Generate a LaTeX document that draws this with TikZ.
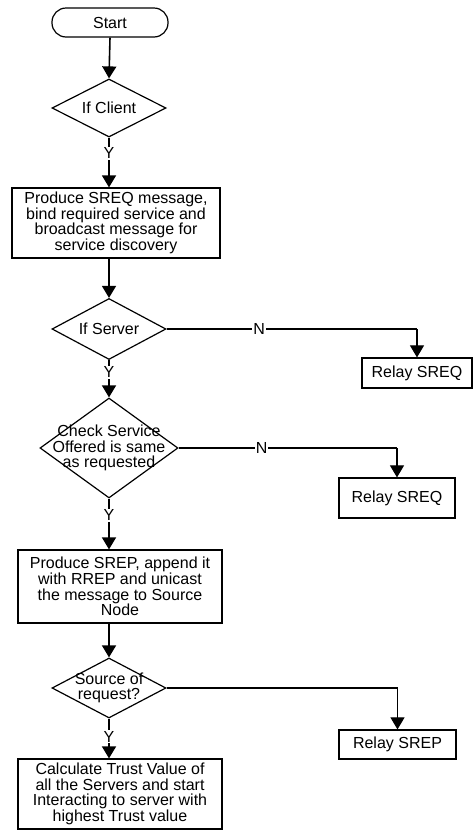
\documentclass[tikz,border=0pt]{standalone}
\usepackage{fontspec}
\setmainfont{Liberation Sans}
\usetikzlibrary{shapes.geometric,arrows.meta}
\begin{document}
\begin{tikzpicture}[x=1pt,y=-1pt,
  every node/.style={font=\fontsize{16}{15.6}\selectfont},
  procbox/.style={draw,line width=1.2pt,align=center,inner sep=0pt},
  dia/.style={draw,shape=diamond,line width=1.2pt,inner sep=0pt},
  term/.style={draw,rounded corners=14pt,line width=1.2pt,inner sep=0pt},
  arr/.style={line width=1.6pt,-{Triangle[width=14pt,length=12pt]}},
  narr/.style={line width=1.1pt,-{Triangle[width=14pt,length=12pt]}},
  lab/.style={fill=white,inner sep=1pt}]
\useasboundingbox (0,0) rectangle (476,836);
\node[term,minimum width=116pt,minimum height=29pt] (start) at (110,22.5) {Start};
\node[dia,minimum width=114pt,minimum height=58pt,label=center:If Client] (d1) at (109,108) {};
\node[procbox,minimum width=208pt,minimum height=70pt] (b1) at (116,223) {Produce SREQ message,\\bind required service and\\broadcast message for\\service discovery};
\node[dia,minimum width=114pt,minimum height=61pt,label=center:If Server] (d2) at (109,329) {};
\node[procbox,minimum width=110pt,minimum height=30pt] (r1) at (417,373) {Relay SREQ};
\node[dia,minimum width=138pt,minimum height=100pt,label={[align=center]center:Check Service\\Offered is same\\as requested}] (d3) at (109,448) {};
\node[procbox,minimum width=116pt,minimum height=40pt] (r2) at (397,498) {Relay SREQ};
\node[procbox,minimum width=204pt,minimum height=73pt] (b2) at (120,586.5) {Produce SREP, append it\\with RREP and unicast\\the message to Source\\Node};
\node[dia,minimum width=114pt,minimum height=60pt,label={[align=center]center:Source of\\request?}] (d4) at (109,688) {};
\node[procbox,minimum width=117pt,minimum height=29pt] (r3) at (397.5,744.5) {Relay SREP};
\node[procbox,minimum width=204pt,minimum height=70pt] (b3) at (120,794) {Calculate Trust Value of\\all the Servers and start\\Interacting to server with\\highest Trust value};
% main flow
\draw[arr] (start.south) -- (d1.north);
\draw[arr] (d1.south) -- node[lab,pos=0.31]{Y} (d1.south |- b1.north);
\draw[arr] (d1.south |- b1.south) -- (d2.north);
\draw[arr] (d2.south) -- node[lab,pos=0.33]{Y} (d3.north);
\draw[arr] (d3.south) -- node[lab,pos=0.33]{Y} (d3.south |- b2.north);
\draw[arr] (d3.south |- b2.south) -- (d4.north);
\draw[arr] (d4.south) -- node[lab,pos=0.45]{Y} (d4.south |- b3.north);
% side branches
\coordinate (c1) at (d2.east -| r1.north);
\coordinate (c2) at (d3.east -| r2.north);
\coordinate (c3) at (d4.east -| r3.north);
\draw[line width=1.1pt] (d2.east) -- node[lab,pos=0.37]{N} (c1);
\draw[narr] (c1) -- (r1.north);
\draw[line width=1.1pt] (d3.east) -- node[lab,pos=0.38]{N} (c2);
\draw[narr] (c2) -- (r2.north);
\draw[line width=1.1pt] (d4.east) -- (c3);
\draw[narr] (c3) -- (r3.north);
\end{tikzpicture}
\end{document}
